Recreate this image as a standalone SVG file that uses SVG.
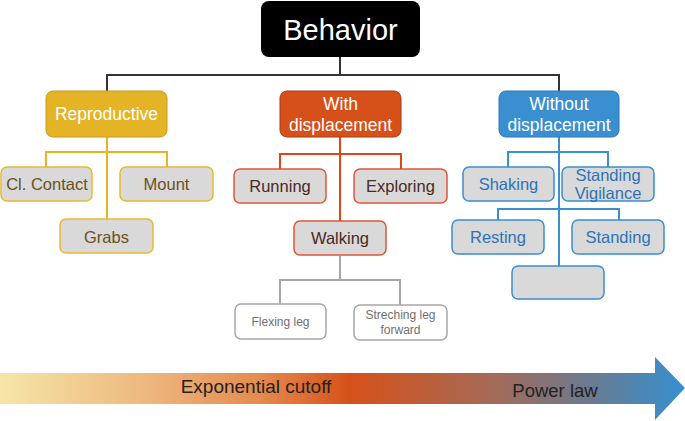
<svg xmlns="http://www.w3.org/2000/svg" width="685" height="421" viewBox="0 0 685 421">
<defs>
<linearGradient id="band" x1="0" y1="0" x2="685" y2="0" gradientUnits="userSpaceOnUse">
<stop offset="0" stop-color="#F6E6A8"/>
<stop offset="0.22" stop-color="#EDB67C"/>
<stop offset="0.38" stop-color="#E58A4E"/>
<stop offset="0.51" stop-color="#D6511A"/>
<stop offset="0.72" stop-color="#A56A58"/>
<stop offset="0.86" stop-color="#6B7A90"/>
<stop offset="1" stop-color="#3590D0"/>
</linearGradient>
</defs>
<style>
text{font-family:"Liberation Sans",Arial,sans-serif;text-anchor:middle}
.hdr{font-size:17.5px;fill:#fff}
.gold rect{fill:#D9D9D9;stroke:#E8B930;stroke-width:1.5}
.gold text{font-size:16.5px;fill:#6B5020}
.red rect{fill:#D9D9D9;stroke:#E0553A;stroke-width:1.5}
.red text{font-size:16.5px;fill:#4A2A1E}
.blue rect{fill:#D9D9D9;stroke:#3A8FD0;stroke-width:1.5}
.blue text{font-size:16.5px;fill:#2E72B8}
.gray rect{fill:#fff;stroke:#A6A6A6;stroke-width:1.5}
.gray text{font-size:12px;fill:#707070}
#connectors path{fill:none;stroke-width:2}
</style>
<g id="connectors">
<path d="M340 57V75M107 92V75H559V92" stroke="#333"/>
<path d="M107 137V219M46 167V152H167V167" stroke="#E8B420"/>
<path d="M340 137V221M280 169V154H401V169" stroke="#E0451A"/>
<path d="M340 256V280M280 304V280H400V305" stroke="#A6A6A6"/>
<path d="M559 137V266M508 167V152H608V167M498 220V209H619V220" stroke="#3A8FD0"/>
</g>
<g id="behavior"><rect x="261" y="1" width="159" height="56" rx="8" fill="#000"/><text x="340.5" y="40" style="font-size:29px;fill:#fff">Behavior</text></g>
<g id="reproductive"><rect x="46" y="91" width="121" height="46" rx="7" fill="#E5B426" stroke="#C99A1A"/><text class="hdr" x="106.5" y="120">Reproductive</text></g>
<g id="with-displacement"><rect x="280" y="91" width="121" height="46" rx="7" fill="#D6511A" stroke="#A83A10"/><text class="hdr" x="340.5" y="110">With</text><text class="hdr" x="340.5" y="131">displacement</text></g>
<g id="without-displacement"><rect x="499" y="91" width="120" height="46" rx="7" fill="#3A8FD0" stroke="#2A78B8"/><text class="hdr" x="559" y="110">Without</text><text class="hdr" x="559" y="131">displacement</text></g>
<g id="cl-contact" class="gold"><rect x="1" y="167" width="91" height="34" rx="6"/><text x="47" y="190">Cl. Contact</text></g>
<g id="mount" class="gold"><rect x="120" y="167" width="93" height="34" rx="6"/><text x="166.5" y="190">Mount</text></g>
<g id="grabs" class="gold"><rect x="60" y="219" width="93" height="34" rx="6"/><text x="106.5" y="243">Grabs</text></g>
<g id="running" class="red"><rect x="234" y="169" width="92" height="34" rx="6"/><text x="280" y="192">Running</text></g>
<g id="exploring" class="red"><rect x="354" y="169" width="93" height="34" rx="6"/><text x="400.5" y="192">Exploring</text></g>
<g id="walking" class="red"><rect x="294" y="221" width="92" height="34" rx="6"/><text x="340" y="244">Walking</text></g>
<g id="flexing-leg" class="gray"><rect x="235" y="304" width="91" height="35" rx="6"/><text x="280.5" y="326">Flexing leg</text></g>
<g id="streching-leg" class="gray"><rect x="354" y="305" width="93" height="35" rx="6"/><text x="400.5" y="319">Streching leg</text><text x="400.5" y="334">forward</text></g>
<g id="shaking" class="blue"><rect x="463" y="167" width="91" height="34" rx="6"/><text x="508.5" y="190">Shaking</text></g>
<g id="standing-vigilance" class="blue"><rect x="562" y="167" width="92" height="34" rx="6"/><text x="608" y="181">Standing</text><text x="608" y="199">Vigilance</text></g>
<g id="resting" class="blue"><rect x="452" y="220" width="92" height="34" rx="6"/><text x="498" y="243">Resting</text></g>
<g id="standing" class="blue"><rect x="572" y="220" width="92" height="34" rx="6"/><text x="618" y="243">Standing</text></g>
<g id="empty" class="blue"><rect x="512" y="266" width="92" height="33" rx="6"/></g>
<g id="scale-arrow">
<path d="M0 373H655V357L685 388L655 420V404H0Z" fill="url(#band)"/>
<text x="256" y="393" style="font-size:19px;fill:#222">Exponential cutoff</text>
<text x="555" y="397" style="font-size:18.5px;fill:#222">Power law</text>
</g>
</svg>
